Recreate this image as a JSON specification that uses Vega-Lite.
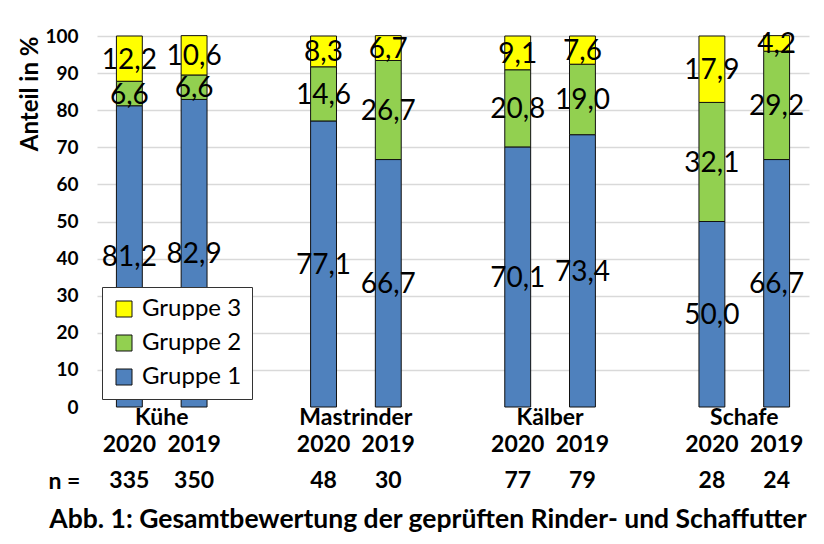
{
  "$schema": "https://vega.github.io/schema/vega-lite/v6.json",
  "width": 712,
  "height": 371,
  "autosize": {"type": "none"},
  "padding": {"left": 97, "top": 36, "right": 15, "bottom": 137},
  "background": "white",
  "config": {
    "locale": {"number": {"decimal": ",", "thousands": ".", "grouping": [3], "currency": ["", " €"]}},
    "font": "Lato",
    "view": {"stroke": null},
    "axisY": {
      "labelOverlap": false,
      "labelFont": "Lato",
      "labelFontSize": 19,
      "labelFontWeight": "bold",
      "labelColor": "#000",
      "labelPadding": 19,
      "ticks": false,
      "domain": false,
      "gridColor": "#D9D9D9",
      "gridWidth": 1.5,
      "titleFont": "Lato",
      "titleFontSize": 24,
      "titleFontWeight": "bold",
      "titleColor": "#000",
      "titleAnchor": "end",
      "titlePadding": 2
    }
  },
  "title": {
    "text": "Abb. 1: Gesamtbewertung der geprüften Rinder- und Schaffutter",
    "orient": "bottom",
    "anchor": "middle",
    "frame": "bounds",
    "font": "Lato",
    "fontSize": 26.5,
    "fontWeight": "bold",
    "color": "#000",
    "offset": 14,
    "dx": 14
  },
  "data": {
    "values": [
      {"Tierart": "Kühe", "Jahr": "2020", "Gruppe": "Gruppe 1", "Anteil": 81.2, "n": 335},
      {"Tierart": "Kühe", "Jahr": "2020", "Gruppe": "Gruppe 2", "Anteil": 6.6, "n": 335},
      {"Tierart": "Kühe", "Jahr": "2020", "Gruppe": "Gruppe 3", "Anteil": 12.2, "n": 335},
      {"Tierart": "Kühe", "Jahr": "2019", "Gruppe": "Gruppe 1", "Anteil": 82.9, "n": 350},
      {"Tierart": "Kühe", "Jahr": "2019", "Gruppe": "Gruppe 2", "Anteil": 6.6, "n": 350},
      {"Tierart": "Kühe", "Jahr": "2019", "Gruppe": "Gruppe 3", "Anteil": 10.6, "n": 350},
      {"Tierart": "Mastrinder", "Jahr": "2020", "Gruppe": "Gruppe 1", "Anteil": 77.1, "n": 48},
      {"Tierart": "Mastrinder", "Jahr": "2020", "Gruppe": "Gruppe 2", "Anteil": 14.6, "n": 48},
      {"Tierart": "Mastrinder", "Jahr": "2020", "Gruppe": "Gruppe 3", "Anteil": 8.3, "n": 48},
      {"Tierart": "Mastrinder", "Jahr": "2019", "Gruppe": "Gruppe 1", "Anteil": 66.7, "n": 30},
      {"Tierart": "Mastrinder", "Jahr": "2019", "Gruppe": "Gruppe 2", "Anteil": 26.7, "n": 30},
      {"Tierart": "Mastrinder", "Jahr": "2019", "Gruppe": "Gruppe 3", "Anteil": 6.7, "n": 30},
      {"Tierart": "Kälber", "Jahr": "2020", "Gruppe": "Gruppe 1", "Anteil": 70.1, "n": 77},
      {"Tierart": "Kälber", "Jahr": "2020", "Gruppe": "Gruppe 2", "Anteil": 20.8, "n": 77},
      {"Tierart": "Kälber", "Jahr": "2020", "Gruppe": "Gruppe 3", "Anteil": 9.1, "n": 77},
      {"Tierart": "Kälber", "Jahr": "2019", "Gruppe": "Gruppe 1", "Anteil": 73.4, "n": 79},
      {"Tierart": "Kälber", "Jahr": "2019", "Gruppe": "Gruppe 2", "Anteil": 19.0, "n": 79},
      {"Tierart": "Kälber", "Jahr": "2019", "Gruppe": "Gruppe 3", "Anteil": 7.6, "n": 79},
      {"Tierart": "Schafe", "Jahr": "2020", "Gruppe": "Gruppe 1", "Anteil": 50.0, "n": 28},
      {"Tierart": "Schafe", "Jahr": "2020", "Gruppe": "Gruppe 2", "Anteil": 32.1, "n": 28},
      {"Tierart": "Schafe", "Jahr": "2020", "Gruppe": "Gruppe 3", "Anteil": 17.9, "n": 28},
      {"Tierart": "Schafe", "Jahr": "2019", "Gruppe": "Gruppe 1", "Anteil": 66.7, "n": 24},
      {"Tierart": "Schafe", "Jahr": "2019", "Gruppe": "Gruppe 2", "Anteil": 29.2, "n": 24},
      {"Tierart": "Schafe", "Jahr": "2019", "Gruppe": "Gruppe 3", "Anteil": 4.2, "n": 24}
    ]
  },
  "encoding": {
    "x": {
      "field": "Tierart",
      "type": "nominal",
      "sort": ["Kühe", "Mastrinder", "Kälber", "Schafe"],
      "scale": {"paddingInner": 0.3333, "paddingOuter": 0},
      "axis": {
        "title": "n =",
        "labelAngle": 0,
        "labelFont": "Lato",
        "labelFontSize": 23,
        "labelFontWeight": "bold",
        "labelColor": "#000",
        "labelBaseline": "middle",
        "labelPadding": 10,
        "labelOverlap": false,
        "domain": false,
        "ticks": false,
        "titleX": -33,
        "titleY": 74,
        "titleAngle": 0,
        "titleAlign": "center",
        "titleBaseline": "middle",
        "titleFont": "Lato",
        "titleFontSize": 23,
        "titleFontWeight": "bold",
        "titleColor": "#000"
      }
    },
    "xOffset": {
      "field": "Jahr",
      "type": "nominal",
      "sort": ["2020", "2019"],
      "scale": {"paddingInner": 0.6, "paddingOuter": 0.3}
    },
    "y": {
      "field": "Anteil",
      "type": "quantitative",
      "stack": "zero",
      "title": "Anteil in %",
      "scale": {"domain": [0, 100], "nice": false},
      "axis": {
        "values": [0, 10, 20, 30, 40, 50, 60, 70, 80, 90, 100],
        "gridOpacity": {"condition": {"test": "datum.value == 0", "value": 0}, "value": 1}
      }
    }
  },
  "layer": [
    {
      "mark": {"type": "bar", "stroke": "#111", "strokeWidth": 1},
      "encoding": {
        "color": {
          "field": "Gruppe",
          "type": "nominal",
          "scale": {"domain": ["Gruppe 3", "Gruppe 2", "Gruppe 1"], "range": ["#FFFF00", "#92D050", "#4F81BD"]},
          "legend": {
            "title": null,
            "orient": "none",
            "legendX": 5,
            "legendY": 251,
            "direction": "vertical",
            "symbolType": "square",
            "symbolSize": 256,
            "symbolStrokeColor": "#111",
            "symbolStrokeWidth": 1,
            "symbolOpacity": 1,
            "labelFont": "Lato",
            "labelFontSize": 24,
            "labelColor": "#000",
            "labelOffset": 6,
            "rowPadding": 10,
            "padding": 10,
            "strokeColor": "#333",
            "fillColor": "#fff"
          }
        },
        "order": {"field": "Gruppe", "sort": "ascending"}
      }
    },
    {
      "mark": {"type": "text", "font": "Lato", "fontSize": 28, "baseline": "middle", "dy": 2, "color": "#000"},
      "encoding": {
        "y": {
          "field": "Anteil",
          "type": "quantitative",
          "stack": "zero",
          "bandPosition": 0.5,
          "title": "Anteil in %",
          "scale": {"domain": [0, 100], "nice": false},
          "axis": {
            "values": [0, 10, 20, 30, 40, 50, 60, 70, 80, 90, 100],
            "gridOpacity": {"condition": {"test": "datum.value == 0", "value": 0}, "value": 1}
          }
        },
        "detail": {"field": "Gruppe"},
        "order": {"field": "Gruppe", "sort": "ascending"},
        "text": {"field": "Anteil", "type": "quantitative", "format": ".1f"}
      }
    },
    {
      "transform": [{"filter": "datum.Gruppe == 'Gruppe 1'"}],
      "mark": {"type": "text", "font": "Lato", "fontSize": 23, "fontWeight": "bold", "baseline": "middle", "color": "#000"},
      "encoding": {
        "y": {
          "datum": -10.3,
          "type": "quantitative",
          "title": "Anteil in %",
          "scale": {"domain": [0, 100], "nice": false},
          "axis": {
            "values": [0, 10, 20, 30, 40, 50, 60, 70, 80, 90, 100],
            "gridOpacity": {"condition": {"test": "datum.value == 0", "value": 0}, "value": 1}
          }
        },
        "text": {"field": "Jahr"}
      }
    },
    {
      "transform": [{"filter": "datum.Gruppe == 'Gruppe 1'"}],
      "mark": {"type": "text", "font": "Lato", "fontSize": 23, "fontWeight": "bold", "baseline": "middle", "color": "#000"},
      "encoding": {
        "y": {
          "datum": -19.95,
          "type": "quantitative",
          "title": "Anteil in %",
          "scale": {"domain": [0, 100], "nice": false},
          "axis": {
            "values": [0, 10, 20, 30, 40, 50, 60, 70, 80, 90, 100],
            "gridOpacity": {"condition": {"test": "datum.value == 0", "value": 0}, "value": 1}
          }
        },
        "text": {"field": "n"}
      }
    }
  ]
}
